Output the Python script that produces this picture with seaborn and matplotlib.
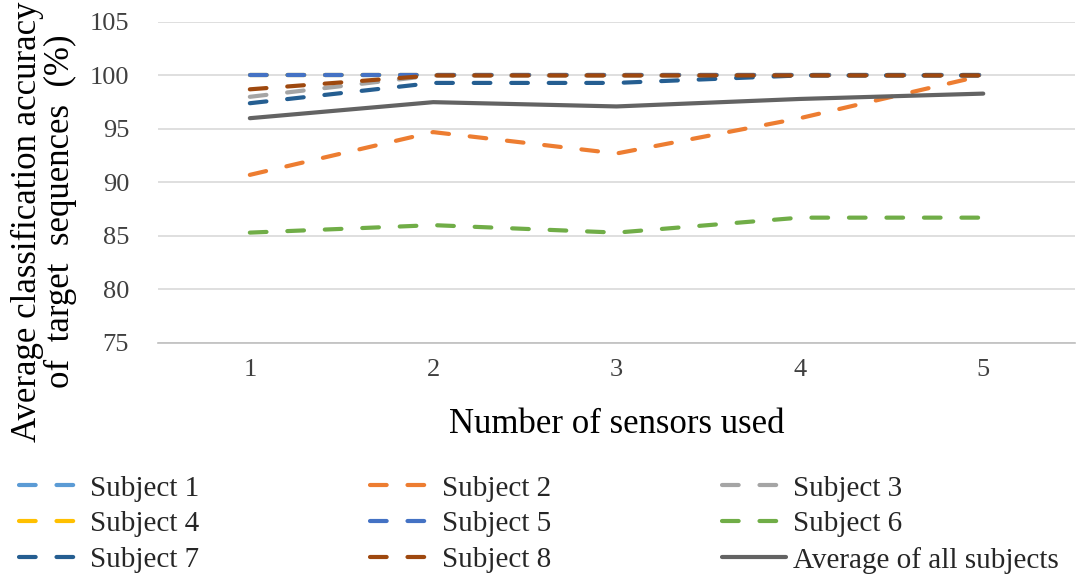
import numpy as np
import pandas as pd
import matplotlib
matplotlib.use("Agg")
import matplotlib.pyplot as plt
import seaborn as sns

sensors = [1, 2, 3, 4, 5]
subject1 = [100, 100, 100, 100, 100]
subject2 = [90.7, 94.7, 92.7, 96.0, 100]
subject3 = [98.0, 100, 100, 100, 100]
subject4 = [100, 100, 100, 100, 100]
subject5 = [100, 100, 100, 100, 100]
subject6 = [85.3, 86.0, 85.3, 86.7, 86.7]
subject7 = [97.4, 99.3, 99.3, 100, 100]
subject8 = [98.7, 100, 100, 100, 100]
average = [96.0, 97.5, 97.1, 97.8, 98.3]

series_names = ["Subject 1", "Subject 2", "Subject 3", "Subject 4", "Subject 5",
                "Subject 6", "Subject 7", "Subject 8", "Average of all subjects"]
series_vals = [subject1, subject2, subject3, subject4, subject5,
               subject6, subject7, subject8, average]
colors = ["#5B9BD5", "#ED7D31", "#A5A5A5", "#FFC000", "#4472C4",
          "#70AD47", "#255E91", "#9E480E", "#636363"]

rows = []
for name, vals in zip(series_names, series_vals):
    for s, v in zip(sensors, vals):
        rows.append({"sensors": s, "acc": v, "series": name})
df = pd.DataFrame(rows)

sns.set_theme(style="white")
plt.rcParams['font.family'] = ['Liberation Serif', 'DejaVu Serif']

fig = plt.figure(figsize=(10.76, 5.78), dpi=100)
ax = fig.add_axes([0.147, 0.407, 0.852, 0.555])

palette = dict(zip(series_names, colors))
dashes = {n: (4, 5) for n in series_names[:-1]}
dashes["Average of all subjects"] = ""
sns.lineplot(data=df, x="sensors", y="acc", hue="series", style="series",
             palette=palette, dashes=dashes, hue_order=series_names,
             style_order=series_names, linewidth=3, legend=False, ax=ax,
             sort=False)

for ln in ax.lines:
    ln.set_dash_capstyle("round")
    ln.set_solid_capstyle("round")

ax.set_xlim(0.5, 5.5)
ax.set_ylim(75, 105)
ax.set_xticks(sensors)
ax.set_xticklabels([str(s) for s in sensors])
ax.set_yticks([75, 80, 85, 90, 95, 100, 105])
ax.yaxis.grid(True, color="#D9D9D9", linewidth=1.2)
ax.xaxis.grid(False)
for sp in ["top", "right", "left"]:
    ax.spines[sp].set_visible(False)
ax.spines["bottom"].set_color("#BFBFBF")
ax.spines["bottom"].set_linewidth(1.2)
ax.tick_params(axis="both", labelsize=19, length=0, colors="#404040")
ax.tick_params(axis="y", pad=21)
ax.tick_params(axis="x", pad=12)
for t in ax.get_xticklabels() + ax.get_yticklabels():
    t.set_color("#404040")
ax.set_xlabel("Number of sensors used", fontsize=25, color="black", labelpad=19)
ax.set_ylabel("")
fig.text(27 / 1076, 1 - 222 / 578, "Average classification accuracy",
         rotation=90, fontsize=25, color="black", ha="center", va="center")
fig.text(60 / 1076, 1 - 211 / 578, "of  target  sequences  (%)",
         rotation=90, fontsize=25, color="black", ha="center", va="center")

handles = ax.lines[:len(series_names)]
order = [0, 3, 6, 1, 4, 7, 2, 5, 8]
fig.legend([handles[i] for i in order], [series_names[i] for i in order],
           loc="upper left", bbox_to_anchor=(0.0176, 0.178),
           ncol=3, frameon=False, fontsize=21, handlelength=2.2,
           handletextpad=0.25, columnspacing=5.85, labelspacing=0.32,
           borderaxespad=0, borderpad=0)

fig.savefig("out.png", dpi=100)
